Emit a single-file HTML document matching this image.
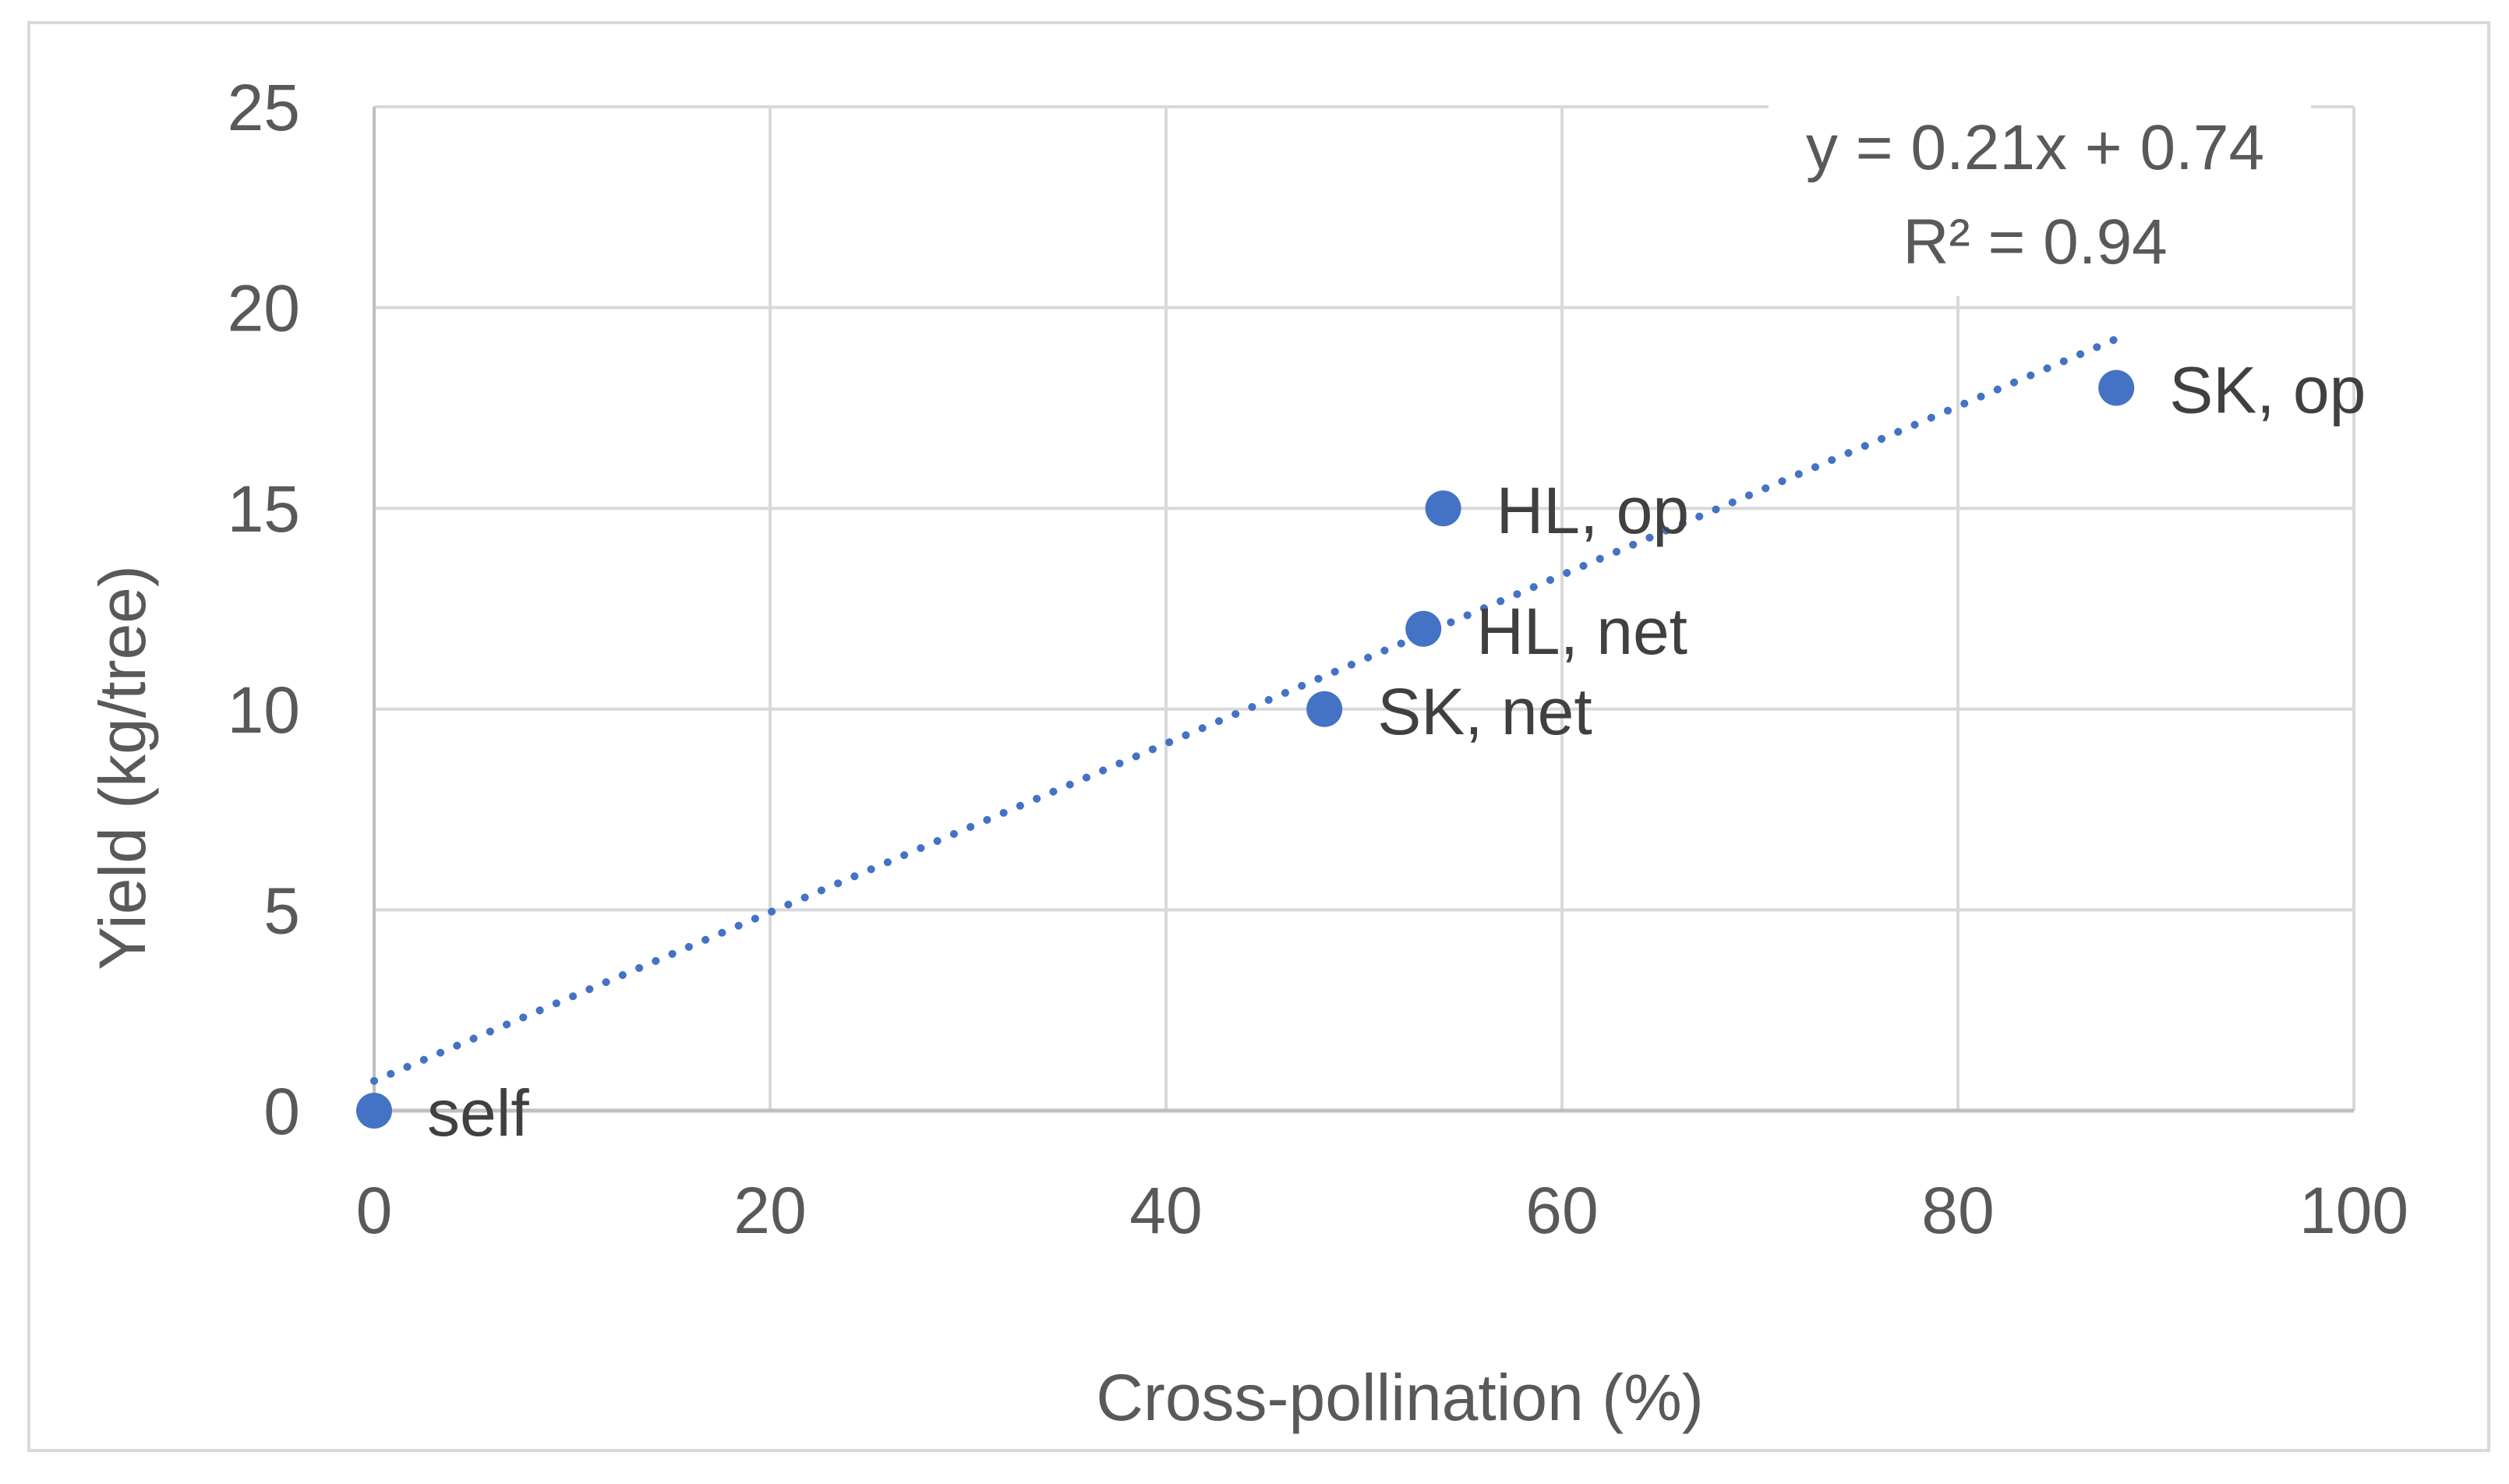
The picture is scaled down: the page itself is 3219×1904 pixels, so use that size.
<!DOCTYPE html>
<html><head><meta charset="utf-8"><style>
html,body{margin:0;padding:0;background:#fff;}
svg{display:block;font-family:"Liberation Sans",sans-serif;}
</style></head><body>
<svg id="chart" width="3219" height="1904" viewBox="0 0 3219 1904">
<rect x="37" y="29" width="3156" height="1832" fill="#fff" stroke="#d9d9d9" stroke-width="4"/>
<g id="grid"></g>
<g id="axes"></g>
<g id="trend"></g>
<g id="eqbox">
<rect x="2269" y="128" width="696" height="252" fill="#fff"/>
<text x="2611" y="217" font-size="82" fill="#595959" text-anchor="middle">y = 0.21x + 0.74</text>
<text x="2611" y="338" font-size="82" fill="#595959" text-anchor="middle">R² = 0.94</text>
</g>
<g id="points"></g>
<text x="1796" y="1822" font-size="84" fill="#595959" text-anchor="middle">Cross-pollination (%)</text>
<text transform="translate(186,985) rotate(-90)" font-size="84" fill="#595959" text-anchor="middle">Yield (kg/tree)</text>
</svg>
<script>
const xTicks = [0, 20, 40, 60, 80, 100];
const yTicks = [0, 5, 10, 15, 20, 25];
const xTickLabels = ["0", "20", "40", "60", "80", "100"];
const yTickLabels = ["0", "5", "10", "15", "20", "25"];
const pointLabels = ["self", "SK, net", "HL, net", "HL, op", "SK, op"];
const crossPollination = [0, 48, 53, 54, 88];
const yieldValues = [0, 10, 12, 15, 18];
const trendSlope = 0.21;
const trendIntercept = 0.74;
const trendRange = [0, 88];

const NS = "http://www.w3.org/2000/svg";
const X0 = 480, X1 = 3020, Y0 = 1425, Y1 = 137;
const xs = v => X0 + (v - 0) / 100 * (X1 - X0);
const ys = v => Y0 - (v - 0) / 25 * (Y0 - Y1);
function mk(tag, attrs, parent) {
  const e = document.createElementNS(NS, tag);
  for (const k in attrs) e.setAttribute(k, attrs[k]);
  parent.appendChild(e);
  return e;
}
const grid = document.getElementById('grid');
const axes = document.getElementById('axes');
xTicks.forEach((t, i) => {
  if (t !== 0) {
    const l = mk('line', {x1: xs(t), x2: xs(t), y1: Y1, y2: Y0, stroke: '#d9d9d9', 'stroke-width': 4}, grid);
    
    
  }
  const tx = mk('text', {x: xs(t), y: 1582, 'font-size': 84, fill: '#595959', 'text-anchor': 'middle'}, axes);
  tx.textContent = xTickLabels[i];
  
  
});
yTicks.forEach((t, i) => {
  if (t !== 0) {
    const l = mk('line', {x1: X0, x2: X1, y1: ys(t), y2: ys(t), stroke: '#d9d9d9', 'stroke-width': 4}, grid);
    
    
  }
  const tx = mk('text', {x: 385, y: ys(t) + 30, 'font-size': 84, fill: '#595959', 'text-anchor': 'end'}, axes);
  tx.textContent = yTickLabels[i];
  
  
});
const ya = mk('line', {x1: X0, x2: X0, y1: Y1, y2: Y0, stroke: '#bfbfbf', 'stroke-width': 4}, axes);


const xa = mk('line', {x1: X0, x2: X1, y1: Y0, y2: Y0, stroke: '#bfbfbf', 'stroke-width': 5}, axes);



const trend = document.getElementById('trend');
const tl = mk('line', {
  x1: xs(trendRange[0]), y1: ys(trendSlope * trendRange[0] + trendIntercept),
  x2: xs(trendRange[1]), y2: ys(trendSlope * trendRange[1] + trendIntercept),
  stroke: '#4472c4', 'stroke-width': 10, 'stroke-linecap': 'round', 'stroke-dasharray': '0.1 23'
}, trend);



const pts = document.getElementById('points');
crossPollination.forEach((x, i) => {
  const c = mk('circle', {cx: xs(x), cy: ys(yieldValues[i]), r: 23, fill: '#4472c4'}, pts);
  
  
  const t = mk('text', {x: xs(x) + 68, y: ys(yieldValues[i]) + 32, 'font-size': 84, fill: '#404040'}, pts);
  t.textContent = pointLabels[i];
  
  
});
</script>
</body></html>
